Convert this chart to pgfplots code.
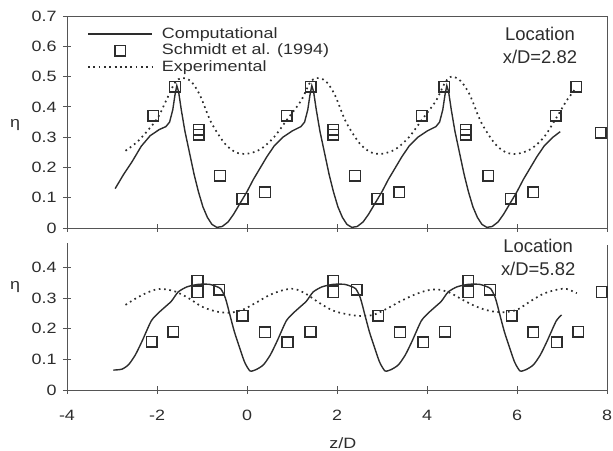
\documentclass[border=0pt]{standalone}
\usepackage{fontspec}
\setmainfont{Liberation Sans}[FakeStretch=1.2]
\newfontfamily\locfont{Liberation Sans}
\usepackage{pgfplots}
\pgfplotsset{compat=1.18}
\definecolor{ink}{RGB}{45,45,45}
\definecolor{frame}{RGB}{85,85,85}

\tikzset{lab/.style={font=\fontsize{15}{18}\selectfont, text=ink, inner sep=0pt}}
\pgfplotsset{
  common/.style={
    scale only axis, width=540bp, xmin=-4, xmax=8,
    tick align=center, major tick length=8bp,
    axis line style={frame, line width=0.9bp},
    every tick/.style={frame, line width=0.9bp},
    tick label style={font=\fontsize{15}{18}\selectfont, text=ink},
    yticklabel style={xshift=-3bp},
    xticklabel style={yshift=-13bp},
    xtick={-4,-2,0,2,4,6,8},
    xtick pos=bottom, ytick pos=left,
    clip=false,
  },
  comp/.style={ink, line width=1.4bp},
  expt/.style={ink, line width=1.7bp, dash pattern=on 1.7bp off 3.6bp},
  sq/.style={only marks, mark=square, mark size=5.3bp, mark options={solid, line width=1.5bp, draw=ink, fill=none}},
}

\begin{document}
\begin{tikzpicture}
% ---------------- top panel ----------------
\begin{axis}[common,
  at={(67bp,223bp)}, anchor=south west, height=212bp,
  ymin=0, ymax=0.7,
  ytick={0,0.1,0.2,0.3,0.4,0.5,0.6,0.7},
  yticklabels={\mbox{0},\mbox{0.1},\mbox{0.2},\mbox{0.3},\mbox{0.4},\mbox{0.5},\mbox{0.6},\mbox{0.7}},
  xticklabels={},
  legend style={draw=none, fill=none, at={(axis description cs:0,1)}, anchor=north west,
    xshift=20bp, yshift=-10bp, font=\fontsize{15}{18}\selectfont, text=ink,
    inner sep=0pt, row sep=0.5bp,
    nodes={inner xsep=3bp, inner ysep=1bp, text height=11bp, text depth=3bp}},
  legend cell align=left,
  legend image code/.code={\draw[mark repeat=2, mark phase=2, #1] plot coordinates {(0bp,0bp) (32bp,0bp) (64bp,0bp)}; \path (70bp,0bp);},
]
\addplot[comp] coordinates {
(-2.93,0.13) (-2.75,0.175) (-2.55,0.22) (-2.35,0.27) (-2.15,0.305) (-1.95,0.325)
(-1.8,0.335) (-1.72,0.35) (-1.65,0.39) (-1.6,0.44) (-1.56,0.47) (-1.52,0.45)
(-1.46,0.39) (-1.38,0.32) (-1.28,0.25) (-1.18,0.18) (-1.08,0.12) (-0.98,0.07)
(-0.88,0.035) (-0.78,0.012) (-0.67,0.002) (-0.55,0.005) (-0.42,0.02) (-0.3,0.045)
(-0.16,0.08) (0.0,0.12) (0.14,0.16) (0.3,0.2) (0.44,0.235) (0.6,0.27) (0.8,0.30)
(1.0,0.32) (1.2,0.335) (1.28,0.35) (1.35,0.39) (1.4,0.44) (1.44,0.47)
(1.48,0.45) (1.54,0.39) (1.62,0.32) (1.72,0.25) (1.82,0.18) (1.92,0.12) (2.02,0.07)
(2.12,0.035) (2.22,0.012) (2.33,0.002) (2.45,0.005) (2.58,0.02) (2.7,0.045)
(2.84,0.08) (3.0,0.12) (3.14,0.16) (3.3,0.2) (3.44,0.235) (3.6,0.27) (3.8,0.30)
(4.0,0.32) (4.2,0.335) (4.28,0.35) (4.35,0.39) (4.4,0.44) (4.44,0.47)
(4.48,0.45) (4.54,0.39) (4.62,0.32) (4.72,0.25) (4.82,0.18) (4.92,0.12) (5.02,0.07)
(5.12,0.035) (5.22,0.012) (5.33,0.002) (5.45,0.005) (5.58,0.02) (5.7,0.045)
(5.84,0.08) (6.0,0.12) (6.14,0.16) (6.3,0.2) (6.44,0.235) (6.6,0.27) (6.8,0.30) (6.96,0.318)
};
\addlegendentry{Computational}
\addplot[sq] coordinates {
(-2.08,0.37) (-1.6,0.467) (-1.07,0.325) (-1.07,0.308) (-0.6,0.173) (-0.1,0.096) (0.4,0.118)
(0.88,0.37) (1.42,0.467) (1.92,0.325) (1.92,0.308) (2.4,0.173) (2.9,0.096) (3.38,0.118)
(3.88,0.37) (4.38,0.467) (4.86,0.325) (4.86,0.308) (5.36,0.173) (5.86,0.096) (6.36,0.118)
(6.86,0.37) (7.32,0.467) (7.86,0.314)
};
\addlegendentry{Schmidt et al. (1994)}
\addplot[expt, smooth] coordinates {
(-2.7,0.255) (-2.4,0.29) (-2.0,0.36) (-1.8,0.42) (-1.6,0.48) (-1.45,0.495) (-1.25,0.485)
(-1.05,0.44) (-0.8,0.35) (-0.5,0.28) (-0.25,0.25) (0,0.245) (0.3,0.26) (0.6,0.30)
(0.9,0.36) (1.2,0.42) (1.4,0.48) (1.55,0.495) (1.75,0.485) (1.95,0.44) (2.2,0.35)
(2.5,0.28) (2.75,0.25) (3.0,0.245) (3.3,0.26) (3.6,0.30) (3.9,0.36) (4.2,0.42)
(4.4,0.48) (4.55,0.50) (4.75,0.485) (4.95,0.44) (5.2,0.35) (5.5,0.28) (5.75,0.25)
(6.0,0.245) (6.3,0.26) (6.6,0.30) (6.9,0.37) (7.1,0.42) (7.3,0.46)
};
\addlegendentry{Experimental}
\node[font=\locfont\fontsize{18.5}{24}\selectfont, align=center, text=ink] at (axis cs:6.51,0.603) {Location\\x/D=2.82};
\node[lab, xshift=-52bp] at (rel axis cs:0,0.486) {η};
\end{axis}

% ---------------- bottom panel ----------------
\begin{axis}[common,
  at={(67bp,61bp)}, anchor=south west, height=147bp,
  ymin=0, ymax=0.48,
  axis x line*=bottom, axis y line*=left,
  ytick={0,0.1,0.2,0.3,0.4},
  yticklabels={\mbox{0},\mbox{0.1},\mbox{0.2},\mbox{0.3},\mbox{0.4}},
  xticklabels={\mbox{-4},\mbox{-2},\mbox{0},\mbox{2},\mbox{4},\mbox{6},\mbox{8}},
]
\draw[frame, line width=0.9bp] (rel axis cs:1,0) -- (rel axis cs:1,0.985);
\addplot[comp, smooth, tension=0.4] coordinates {
(-2.97,0.065) (-2.78,0.068) (-2.63,0.083) (-2.48,0.115) (-2.33,0.16) (-2.13,0.225)
(-1.98,0.25) (-1.83,0.27) (-1.68,0.29) (-1.53,0.32) (-1.33,0.337) (-1.08,0.345)
(-0.83,0.345) (-0.68,0.338) (-0.58,0.33) (-0.48,0.3) (-0.38,0.245) (-0.28,0.19)
(-0.16,0.136) (-0.05,0.09) (0.07,0.062)
(0.22,0.068) (0.37,0.083) (0.52,0.115) (0.67,0.16) (0.87,0.225) (1.02,0.25)
(1.17,0.27) (1.32,0.29) (1.47,0.32) (1.67,0.337) (1.92,0.345) (2.17,0.345)
(2.32,0.338) (2.42,0.33) (2.52,0.3) (2.62,0.245) (2.72,0.19) (2.84,0.136)
(2.95,0.09) (3.07,0.062)
(3.22,0.068) (3.37,0.083) (3.52,0.115) (3.67,0.16) (3.87,0.225) (4.02,0.25)
(4.17,0.27) (4.32,0.29) (4.47,0.32) (4.67,0.337) (4.92,0.345) (5.17,0.345)
(5.32,0.338) (5.42,0.33) (5.52,0.3) (5.62,0.245) (5.72,0.19) (5.84,0.136)
(5.95,0.09) (6.07,0.062)
(6.22,0.068) (6.37,0.083) (6.52,0.115) (6.67,0.16) (6.87,0.225) (6.99,0.245)
};
\addplot[sq] coordinates {
(-2.12,0.158) (-1.64,0.19) (-1.1,0.357) (-1.1,0.32) (-0.62,0.327) (-0.1,0.243)
(0.4,0.189) (0.9,0.156) (1.41,0.19) (1.92,0.357) (1.92,0.32) (2.44,0.327)
(2.92,0.243) (3.4,0.189) (3.92,0.156) (4.4,0.19) (4.92,0.357) (4.92,0.32)
(5.4,0.327) (5.88,0.243) (6.36,0.189) (6.88,0.156) (7.36,0.19) (7.88,0.32)
};
\addplot[expt, smooth] coordinates {
(-2.7,0.278) (-2.4,0.305) (-2.1,0.325) (-1.9,0.33) (-1.6,0.322) (-1.3,0.30)
(-1.0,0.272) (-0.7,0.257) (-0.4,0.252) (-0.1,0.262) (0.2,0.285) (0.5,0.31)
(0.8,0.326) (1.05,0.33) (1.3,0.315) (1.6,0.285) (1.9,0.26) (2.2,0.248)
(2.5,0.242) (2.8,0.245) (3.1,0.265) (3.4,0.289) (3.7,0.31) (4.0,0.325)
(4.25,0.328) (4.5,0.318) (4.8,0.294) (5.1,0.272) (5.4,0.258) (5.7,0.254)
(6.0,0.262) (6.3,0.29) (6.6,0.315) (6.9,0.328) (7.1,0.33) (7.33,0.316)
};
\node[font=\locfont\fontsize{18.5}{24}\selectfont, align=center, text=ink] at (axis cs:6.47,0.433) {Location\\x/D=5.82};
\node[lab, xshift=-52bp] at (rel axis cs:0,0.70) {η};
\node[lab, yshift=-53bp] at (rel axis cs:0.511,0) {z/D};
\end{axis}
\pgfresetboundingbox
\useasboundingbox (0bp,0bp) rectangle (613bp,451bp);
\end{tikzpicture}
\end{document}
